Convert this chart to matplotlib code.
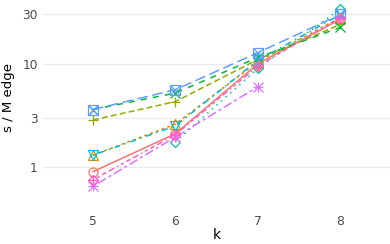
import numpy as np
import matplotlib
matplotlib.use("Agg")
import matplotlib.pyplot as plt

# k values on the x axis (treated as discrete categories)
k = [5, 6, 7, 8]

# seconds per million edges, one list per method (nan = no point)
s_red = [0.90, 2.1, 10.0, 27.0]
s_gold = [1.30, 2.6, 10.5, 28.0]
s_olive = [2.85, 4.3, 11.0, 24.0]
s_green = [3.6, 5.2, 11.5, 22.5]
s_teal = [np.nan, 1.75, 9.0, 34.0]
s_cyan = [1.30, 2.5, 10.8, 30.0]
s_blue = [3.6, 5.6, 12.8, 30.0]
s_purple = [0.65, 1.95, 6.0, np.nan]
s_pink = [0.75, 2.05, 9.5, 28.0]

y_ticks = [1, 3, 10, 30]
y_labels = ["1", "3", "10", "30"]

# ggplot-like styles: colour, marker(s), dash pattern
styles = [
    (s_red, "#F8766D", ["o"], None),
    (s_gold, "#D39200", ["^"], (2, 2)),
    (s_olive, "#93AA00", ["+"], (4, 2)),
    (s_green, "#00BA38", ["x"], (4, 4)),
    (s_teal, "#00C19F", ["D"], (1, 3)),
    (s_cyan, "#00B9E3", ["v"], (1, 3, 4, 3)),
    (s_blue, "#619CFF", ["s", "x"], (7, 3)),
    (s_purple, "#DB72FB", ["+", "x"], (2, 2, 6, 2)),
    (s_pink, "#FF61C3", ["D", "+"], (1, 2, 2, 2, 3, 2, 4, 2)),
]

fig = plt.figure(figsize=(3.9, 2.44), dpi=100)
ax = fig.add_axes([0.111, 0.197, 0.889, 0.803])

for vals, col, markers, dash in styles:
    x = np.array(k, dtype=float)
    y = np.array(vals, dtype=float)
    ok = ~np.isnan(y)
    line, = ax.plot(x[ok], y[ok], color=col, lw=1.1)
    if dash is not None:
        line.set_dashes(dash)
    for m in markers:
        size = 5 if m == "D" else 6.5
        ax.plot(x[ok], y[ok], linestyle="none", marker=m, markersize=size,
                markerfacecolor="none", markeredgecolor=col, markeredgewidth=0.9)

ax.set_yscale("log")
ax.set_xlim(4.4, 8.6)
ax.set_ylim(10 ** -0.28, 10 ** 1.617)
ax.set_yticks(y_ticks)
ax.set_yticklabels(y_labels)
ax.yaxis.set_minor_locator(matplotlib.ticker.NullLocator())
ax.set_xticks(k)
ax.set_xticklabels([str(v) for v in k])

ax.grid(axis="y", color="#EBEBEB", lw=0.9)
ax.set_axisbelow(True)
for sp in ax.spines.values():
    sp.set_visible(False)
ax.tick_params(length=0, labelsize=8.8, labelcolor="#4D4D4D", pad=4)
ax.tick_params(axis="x", pad=14)
ax.set_xlabel("k", fontsize=10, labelpad=0)
ax.set_ylabel("s / M edge", fontsize=9.5, labelpad=3)
ax.yaxis.set_label_coords(-0.083, 0.5)

fig.savefig("out.png", dpi=100)
